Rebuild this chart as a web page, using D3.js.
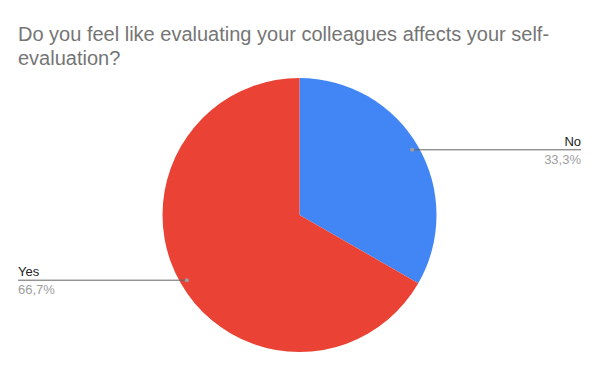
<!DOCTYPE html>
<html>
<head>
<meta charset="utf-8">
<script src="https://cdn.jsdelivr.net/npm/d3@7"></script>
<style>
  body { margin: 0; background: #fff; }
  text { font-family: "Liberation Sans", Arial, sans-serif; }
</style>
</head>
<body>
<svg class="chart"></svg>
<script>
// Data
var categories = ["Yes", "No"];
var values = [66.7, 33.3];
var percentLabels = ["66,7%", "33,3%"];
var colors = ["#ea4335", "#4285f4"];
var titleLines = ["Do you feel like evaluating your colleagues affects your self-", "evaluation?"];

var w = 600,
    h = 371;

var svg = d3.select(".chart")
    .attr("width", w)
    .attr("height", h);

var cx = 299.5, cy = 215, radius = 137;

// Title
svg.append("text")
    .attr("x", 18)
    .attr("y", 41)
    .attr("fill", "#757575")
    .attr("font-size", "20px")
    .selectAll("tspan")
    .data(titleLines)
    .enter().append("tspan")
    .attr("x", 18)
    .attr("dy", function(d, i) { return i ? 24 : 0; })
    .text(function(d) { return d; });

var data = categories.map(function(c, i) {
    return { name: c, value: values[i], pct: percentLabels[i], color: colors[i] };
});

// Pie starts at 12 o'clock, No first clockwise
var pie = d3.pie()
    .sort(null)
    .value(function(d) { return d.value; });

var arcs = pie(data.slice().reverse());

var arc = d3.arc().innerRadius(0).outerRadius(radius);
var dotArc = d3.arc().innerRadius(radius * 0.95).outerRadius(radius * 0.95);

var g = svg.append("g")
    .attr("transform", "translate(" + cx + "," + cy + ")");

g.selectAll("path")
    .data(arcs)
    .enter().append("path")
    .attr("d", arc)
    .attr("fill", function(d) { return d.data.color; });

// Leader lines and labels
arcs.forEach(function(d) {
    var p = dotArc.centroid(d);
    var px = cx + p[0], py = cy + p[1];
    var right = p[0] > 0;
    var endX = right ? 581 : 18;

    svg.append("line")
        .attr("x1", px).attr("y1", py)
        .attr("x2", endX).attr("y2", py)
        .attr("stroke", "#636363")
        .attr("stroke-width", 1);

    svg.append("circle")
        .attr("cx", px).attr("cy", py)
        .attr("r", 2)
        .attr("fill", "#9e9e9e");

    svg.append("text")
        .attr("x", endX)
        .attr("y", py - 4)
        .attr("text-anchor", right ? "end" : "start")
        .attr("font-size", "13px")
        .attr("fill", "#222")
        .text(d.data.name);

    svg.append("text")
        .attr("x", endX)
        .attr("y", py + 14)
        .attr("text-anchor", right ? "end" : "start")
        .attr("font-size", "13px")
        .attr("fill", "#9e9e9e")
        .text(d.data.pct);
});
</script>
</body>
</html>
